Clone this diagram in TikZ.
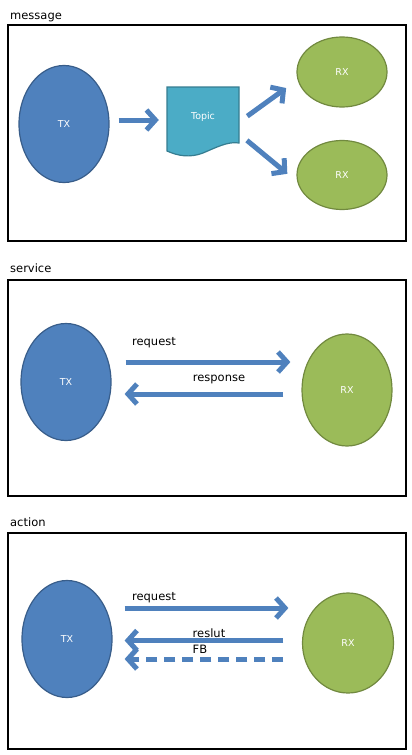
\documentclass[tikz,border=0pt]{standalone}
\usepackage{fontspec}
\setmainfont{DejaVu Sans}
\usepackage{tikz}
\usetikzlibrary{positioning,arrows.meta,calc}
\usetikzlibrary{shapes.geometric}
\definecolor{txfill}{HTML}{4F81BD}
\definecolor{txline}{HTML}{385D8A}
\definecolor{rxfill}{HTML}{9BBB59}
\definecolor{rxline}{HTML}{71893F}
\definecolor{topfill}{HTML}{4BACC6}
\definecolor{topline}{HTML}{357D91}
\definecolor{arrblue}{HTML}{4F81BD}
\tikzset{
    frame/.style={draw=black, line width=2pt, minimum width=398pt, minimum height=216pt, inner sep=0pt},
    title/.style={anchor=base west, inner sep=0pt, font=\fontsize{11.5}{12}\selectfont},
    lbl/.style={anchor=base west, inner sep=0pt, font=\fontsize{11.5}{12}\selectfont},
    tx/.style={ellipse, draw=txline, fill=txfill, line width=1.2pt, text=white,
        font=\fontsize{9.5}{10}\selectfont, minimum width=90pt, minimum height=117pt, inner sep=0pt},
    rx/.style={ellipse, draw=rxline, fill=rxfill, line width=1.2pt, text=white,
        font=\fontsize{9.5}{10}\selectfont, minimum width=90pt, inner sep=0pt},
    topicbox/.style={text=white, font=\fontsize{9.5}{10}\selectfont, minimum width=72pt, minimum height=56pt, inner sep=0pt},
    bigarrow/.style={draw=arrblue, line width=5pt, -{Straight Barb[length=9pt,width=20pt]}}
}

\begin{document}
\begin{tikzpicture}[x=1pt,y=-1pt]
		\useasboundingbox (0,0) rectangle (412,755);

		% message
		\node[frame] (MSG) at (207,133) {};
		\node[title] at ([xshift=3pt,yshift=5pt]MSG.north west) {message};
		\node[tx] (MTX) at (64,124) {TX};
		\node[rx, minimum height=70pt] (MRX1) at (342,72) {RX};
		\node[rx, minimum height=69pt] (MRX2) at (342,175) {RX};
		\filldraw[fill=topfill, draw=topline, line width=1.2pt] (167,87) -- (239,87) -- (239,143)
			.. controls (228,141) and (215,148) .. (203,153)
			.. controls (190,158) and (178,156) .. (167,151) -- cycle;
		\node[topicbox] (TOP) at (203,117) {Topic};

		\draw [bigarrow, shorten <=9pt, shorten >=8pt] ([yshift=4pt]MTX.east) -- ([yshift=-3pt]TOP.west);
		\draw [bigarrow, shorten <=10pt, shorten >=14pt] ([yshift=-5pt]TOP.east) -- (MRX1.190);
		\draw [bigarrow, shorten <=10pt, shorten >=13pt] ([yshift=-17pt]TOP.east) -- (MRX2.189);

		% service
		\node[frame] (SRV) at (207,387.5) {};
		\node[title] at ([xshift=3pt,yshift=6pt]SRV.north west) {service};
		\node[tx] (STX) at (66,382) {TX};
		\node[rx, minimum height=112pt] (SRX) at (347,390) {RX};

		\draw [bigarrow, shorten <=14pt, shorten >=11pt] ([yshift=20pt]STX.east) -- node[lbl, pos=0.095, yshift=17pt]{request} ([yshift=28pt]SRX.west);
		\draw [bigarrow, shorten <=18pt, shorten >=13pt] ([yshift=-4pt]SRX.west) -- node[lbl, pos=0.585, yshift=13pt]{response} ([yshift=-12pt]STX.east);

		% action
		\node[frame] (ACT) at (207,641.3) {};
		\node[title] at ([xshift=3pt,yshift=6pt]ACT.north west) {action};
		\node[tx] (ATX) at (67,639) {TX};
		\node[rx, minimum width=91pt, minimum height=100pt] (ARX) at (348,643) {RX};

		\draw [bigarrow, shorten <=12pt, shorten >=13.5pt] ([yshift=31pt]ATX.east) -- node[lbl, pos=0.09, yshift=8pt]{request} ([yshift=35pt]ARX.west);
		\draw [bigarrow, shorten <=18.5pt, shorten >=12pt] ([yshift=2.5pt]ARX.west) -- node[lbl, pos=0.59, yshift=3.5pt]{reslut} ([yshift=-1.5pt]ATX.east);
		\draw [bigarrow, dash pattern=on 11pt off 7pt, shorten <=18.5pt, shorten >=12pt] ([yshift=-16pt]ARX.west) -- node[lbl, pos=0.59, yshift=6pt]{FB} ([yshift=-20pt]ATX.east);
	\end{tikzpicture}
\end{document}
